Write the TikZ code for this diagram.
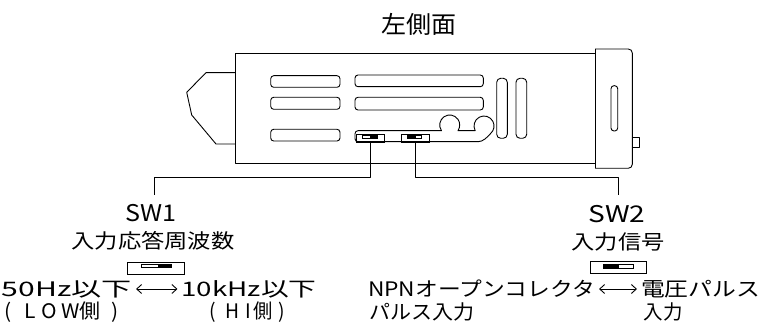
\documentclass[tikz,border=0pt]{standalone}
\usepackage{fontspec}
\setmainfont{Noto Sans CJK JP}
\usetikzlibrary{arrows.meta}
\newcommand{\fitw}[2]{\resizebox{#1}{\height}{#2}}
\tikzset{
  ln/.style={line width=0.9pt, line join=round},
  lbl/.style={inner sep=0pt, outer sep=0pt},
  swbox/.style={draw, line width=0.9pt, inner sep=0pt, outer sep=0pt, rectangle},
  dbl/.style={line width=0.9pt, {Straight Barb[length=5pt,width=9pt]}-{Straight Barb[length=5pt,width=9pt]}, shorten <=4pt, shorten >=4pt},
  fs20/.style={font=\fontsize{20}{24}\selectfont},
  fs23/.style={font=\fontsize{23}{27}\selectfont},
}
\begin{document}
\begin{tikzpicture}[x=1pt,y=1pt]
\useasboundingbox (0,0) rectangle (761,-331);
% ---- body ----
\draw[ln] (595,-53.3) -- (235.7,-53.3) -- (235.7,-163.3) -- (595,-163.3);
\draw[ln] (235.7,-72.7) -- (206,-72.7) -- (186.7,-92.3) -- (191.7,-115) -- (216,-144) -- (235.7,-144);
% cap
\draw[ln] (595,-49) -- (595,-168.3);
\draw[ln, rounded corners=4pt] (595,-49) -- (632.3,-49) -- (632.3,-168.3) -- (595,-168.3);
\draw[ln] (632.3,-137.3) -- (639.3,-137.3) -- (639.3,-147.7) -- (632.3,-147.7);
\draw[ln, rounded corners=3pt] (611,-85.7) rectangle (617.7,-131);
% slots
\draw[ln, rounded corners=3pt] (270.7,-75.7) rectangle (340,-87.3);
\draw[ln, rounded corners=3pt] (270.7,-97.3) rectangle (340,-109.3);
\draw[ln, rounded corners=3pt] (270.7,-129.3) rectangle (340,-141);
\draw[ln, rounded corners=3pt] (355,-75) rectangle (483.3,-86.7);
\draw[ln, rounded corners=3pt] (355,-97.3) rectangle (483.3,-110);
\draw[ln, rounded corners=4pt] (496.7,-78.3) rectangle (507.3,-138.3);
\draw[ln, rounded corners=4pt] (516,-78.3) rectangle (526.7,-138.3);
% slot with bumps
\draw[ln] (355,-138.7) -- (355,-133.7) arc[start angle=180,end angle=90,radius=3]
  -- (441.5,-130.7) arc[start angle=214.8,end angle=-34.8,radius=10]
  -- (475.2,-130.7) arc[start angle=208,end angle=-50,radius=10]
  .. controls (487,-137.5) and (483,-141.7) .. (478,-141.7)
  -- (358,-141.7) arc[start angle=270,end angle=180,radius=3] -- cycle;
% switches in body
\node[swbox, minimum width=28.7pt, minimum height=7.7pt] (sw1in) at (370.35,-138.15) {};
\draw[line width=0.7pt] (362.7,-135.7) rectangle (377.3,-138.3);
\fill (370,-135.7) rectangle (377.3,-138.3);
\node[swbox, minimum width=28.3pt, minimum height=7.7pt] (sw2in) at (415.15,-138.15) {};
\draw[line width=0.7pt] (407.7,-135.7) rectangle (421.7,-138.3);
\fill (407.7,-135.7) rectangle (416,-138.3);
% ---- labels ----
\node[lbl, font=\fontsize{24}{28}\selectfont] (title) at (419,-24) {\fitw{75pt}{左側面}};
\node[lbl, fs23] (sw1lbl) at (151,-213) {\fitw{51pt}{SW1}};
\node[lbl, fs20] (sw1desc) at (153,-241.3) {\fitw{163pt}{入力応答周波数}};
\node[lbl, fs23] (sw2lbl) at (617,-214) {\fitw{57pt}{SW2}};
\node[lbl, fs20] (sw2desc) at (618,-242) {\fitw{93pt}{入力信号}};
% switch icons
\node[swbox, minimum width=56.6pt, minimum height=11.5pt] (sw1icon) at (156,-268.25) {};
\draw[line width=0.7pt] (141.7,-264) rectangle (171.7,-267.7);
\fill (158.3,-264) rectangle (171.7,-267.7);
\node[swbox, minimum width=56.7pt, minimum height=11.6pt] (sw2icon) at (618.35,-267.5) {};
\draw[line width=0.7pt] (603.3,-264) rectangle (633.3,-268.3);
\fill (603.3,-264) rectangle (619,-268.3);
% bottom texts
\node[lbl, fs20] (t50) at (67,-289) {\fitw{130pt}{50Hz以下}};
\node[lbl, fs20] (t10k) at (249,-289) {\fitw{135pt}{10kHz以下}};
\node[lbl, fs20] (tlow) at (61.5,-312) {\fitw{114pt}{(\hspace{0.6em}L\hspace{0.3em}O\hspace{0.2em}W側\hspace{0.5em})}};
\node[lbl, fs20] (thi) at (247.5,-312) {\fitw{76pt}{(\hspace{0.5em}H\hspace{0.3em}I\hspace{0.15em}側\hspace{0.3em})}};
\node[lbl, fs20] (tnpn) at (481.5,-289) {\fitw{227pt}{NPNオープンコレクタ}};
\node[lbl, fs20] (tvolt) at (700.5,-289) {\fitw{119pt}{電圧パルス}};
\node[lbl, fs20] (tpin) at (421.5,-312) {\fitw{105pt}{パルス入力}};
\node[lbl, fs20] (tin) at (663.3,-312) {\fitw{39pt}{入力}};
% ---- connectors ----
\coordinate (sw1end) at (154,-195);
\coordinate (sw2end) at (618.3,-195);
\draw[ln] (sw1in.south) -- ++(0,-35) -| (sw1end);
\draw[ln] (sw2in.south) -- ++(0,-35) -| (sw2end);
\draw[dbl] (t50.east) -- (t10k.west);
\draw[dbl] (tnpn.east) -- (tvolt.west);
\end{tikzpicture}
\end{document}
